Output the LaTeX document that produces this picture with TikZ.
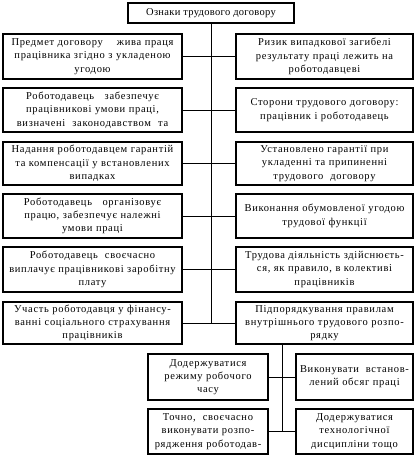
\documentclass[tikz,border=0pt]{standalone}
\usepackage{fontspec}
\setmainfont{Liberation Serif}
\newfontfamily\spacedserif[LetterSpace=6.5]{Liberation Serif}
\newfontfamily\titleserif[LetterSpace=3]{Liberation Serif}
\begin{document}
\begin{tikzpicture}[x=1pt,y=-1pt,
  box/.style={draw, line width=1.2pt, inner sep=1pt, align=center,
    font=\spacedserif\fontsize{10.5}{13.3}\selectfont},
  col/.style={box, minimum width=#1, text width=#1-4pt},
  conn/.style={line width=0.8pt}]
\useasboundingbox (0,0) rectangle (417,455);
\node[box, minimum width=166, minimum height=20, font=\titleserif\fontsize{10.5}{12.6}\selectfont] (top) at (211,13) {Ознаки трудового договору};
% left column
\node[col=179, minimum height=45] (l1) at (92.5,56.5) {Предмет договору\quad\ жива праця\\працівника згідно з укладеною\\угодою};
\node[col=179, minimum height=44] (l2) at (92.5,110) {Роботодавець\ \ \ забезпечує\\працівникові умови праці,\\визначені\ \ законодавством\ \ та};
\node[col=179, minimum height=43] (l3) at (92.5,163.5) {Надання роботодавцем гарантій\\та компенсації у встановлених\\випадках};
\node[col=179, minimum height=44] (l4) at (92.5,216) {Роботодавець\ \ \ організовує\\працю, забезпечує належні\\умови праці};
\node[col=179, minimum height=45] (l5) at (92.5,269.5) {Роботодавець\ \ своєчасно\\виплачує працівникові заробітну\\плату};
\node[col=179, minimum height=42] (l6) at (92.5,323) {Участь роботодавця у фінансу-\\ванні соціального страхування\\працівників};
% right column
\node[col=177, minimum height=45] (r1) at (324.5,56.5) {Ризик випадкової загибелі\\результату праці лежить на\\роботодавцеві};
\node[col=177, minimum height=44] (r2) at (324.5,110) {Сторони трудового договору:\\працівник і роботодавець};
\node[col=177, minimum height=43] (r3) at (324.5,163.5) {Установлено гарантії при\\укладенні та припиненні\\трудового\ \ договору};
\node[col=177, minimum height=44] (r4) at (324.5,216) {Виконання обумовленої угодою\\трудової функції};
\node[col=177, minimum height=45] (r5) at (324.5,269.5) {Трудова діяльність здійснюєть-\\ся, як правило, в колективі\\працівників};
\node[col=177, minimum height=42] (r6) at (324.5,323) {Підпорядкування правилам\\внутрішнього трудового розпо-\\рядку};
% bottom boxes
\node[col=120, minimum height=46] (a) at (208,377) {Додержуватися\\режиму робочого\\часу};
\node[col=117, minimum height=46] (b) at (354.5,377) {Виконувати\ \ встанов-\\лений обсяг праці};
\node[col=120, minimum height=45] (c) at (208,431.5) {Точно,\ \ своєчасно\\виконувати розпо-\\рядження роботодав-};
\node[col=117, minimum height=45] (d) at (354.5,431.5) {Додержуватися\\технологічної\\дисципліни тощо};
% connectors
\coordinate (tend) at (top.south |- l6.east);
\draw[conn] (top.south) -- (tend);
\foreach \i in {1,...,6} {\draw[conn] (l\i.east) -- (r\i.west);}
\coordinate (vtop) at ([xshift=47pt]r6.south west);
\coordinate (vbot) at (vtop |- c.east);
\draw[conn] (vtop) -- (vbot);
\draw[conn] (a.east) -- (b.west);
\draw[conn] (c.east) -- (d.west);
\end{tikzpicture}
\end{document}
